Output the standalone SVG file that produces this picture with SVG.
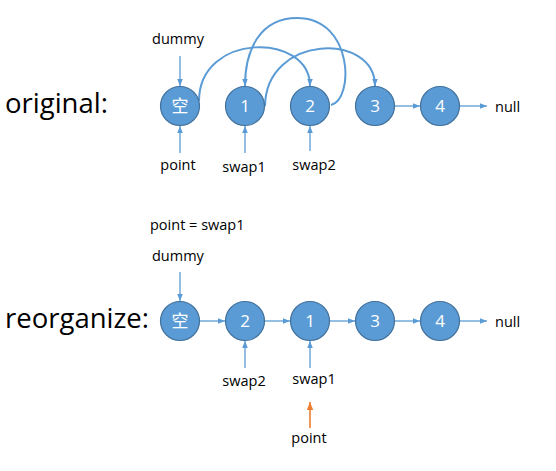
<svg xmlns="http://www.w3.org/2000/svg" width="556" height="471" viewBox="0 0 556 471">
<defs>
<style>
.n circle{fill:#5B9BD5;stroke:#41719C;stroke-width:1.2}
.n text{fill:#fff;font-family:"Open Sans","Noto Sans","Noto Sans CJK SC",sans-serif;font-size:17px;text-anchor:middle}
.t{fill:#000;font-family:"Open Sans","Noto Sans",sans-serif;font-size:14.5px}
.big{fill:#000;font-family:"Open Sans","Noto Sans",sans-serif;font-size:27.5px}
.c{text-anchor:middle}
.e{fill:none;stroke:#5B9BD5;stroke-width:1.3;marker-end:url(#a)}
.cv{fill:none;stroke:#5B9BD5;stroke-width:2;marker-end:url(#a)}
.o{fill:none;stroke:#ED7D31;stroke-width:1.6;marker-end:url(#ao)}
</style>
<marker id="a" viewBox="0 0 10 10" refX="10" refY="5" markerWidth="7" markerHeight="7" markerUnits="userSpaceOnUse" orient="auto"><path d="M0,1 L10,5 L0,9z" fill="#5B9BD5"/></marker>
<marker id="ao" viewBox="0 0 10 10" refX="10" refY="5" markerWidth="8" markerHeight="8" markerUnits="userSpaceOnUse" orient="auto"><path d="M0,1 L10,5 L0,9z" fill="#ED7D31"/></marker>
</defs>
<rect width="556" height="471" fill="#fff"/>
<text class="big" x="5" y="113">original:</text>
<text class="big" x="5" y="328">reorganize:</text>
<g id="connectors">
<path class="cv" d="M199,101 C199,32 310,32 310,86"/>
<path class="cv" d="M331,105 C354,100 354,18 297,18 C260,18 245,50 245,86"/>
<path class="cv" d="M265,106 C266,34 375,32 375,86"/>
<path class="e" d="M395,106 L420,106"/>
<path class="e" d="M460,106 L487,106"/>
<path class="e" d="M180,56 L180,86"/>
<path class="e" d="M180,153 L180,126"/>
<path class="e" d="M245,153 L245,126"/>
<path class="e" d="M310,151 L310,126"/>
<path class="e" d="M200,321 L225,321"/>
<path class="e" d="M265,321 L290,321"/>
<path class="e" d="M330,321 L355,321"/>
<path class="e" d="M395,321 L420,321"/>
<path class="e" d="M460,321 L487,321"/>
<path class="e" d="M180,272 L180,301"/>
<path class="e" d="M245,368 L245,341"/>
<path class="e" d="M310,368 L310,341"/>
<path class="o" d="M310,428 L310,402"/>
</g>
<g id="top-empty" class="n"><circle cx="180" cy="106" r="19.5"/><text x="180" y="112">空</text></g>
<g id="top-1" class="n"><circle cx="245" cy="106" r="19.5"/><text x="245" y="112">1</text></g>
<g id="top-2" class="n"><circle cx="310" cy="106" r="19.5"/><text x="310" y="112">2</text></g>
<g id="top-3" class="n"><circle cx="375" cy="106" r="19.5"/><text x="375" y="112">3</text></g>
<g id="top-4" class="n"><circle cx="440" cy="106" r="19.5"/><text x="440" y="112">4</text></g>
<g id="bot-empty" class="n"><circle cx="180" cy="321" r="19.5"/><text x="180" y="327">空</text></g>
<g id="bot-2" class="n"><circle cx="245" cy="321" r="19.5"/><text x="245" y="327">2</text></g>
<g id="bot-1" class="n"><circle cx="310" cy="321" r="19.5"/><text x="310" y="327">1</text></g>
<g id="bot-3" class="n"><circle cx="375" cy="321" r="19.5"/><text x="375" y="327">3</text></g>
<g id="bot-4" class="n"><circle cx="440" cy="321" r="19.5"/><text x="440" y="327">4</text></g>
<g id="labels">
<text class="t c" x="178" y="44">dummy</text>
<text class="t" x="495" y="112">null</text>
<text class="t c" x="178" y="170">point</text>
<text class="t c" x="244" y="172">swap1</text>
<text class="t c" x="314" y="170">swap2</text>
<text class="t" x="150" y="230">point = swap1</text>
<text class="t" x="152" y="261">dummy</text>
<text class="t" x="495" y="327">null</text>
<text class="t c" x="244" y="386">swap2</text>
<text class="t c" x="314" y="384">swap1</text>
<text class="t c" x="309" y="443">point</text>
</g>
</svg>
